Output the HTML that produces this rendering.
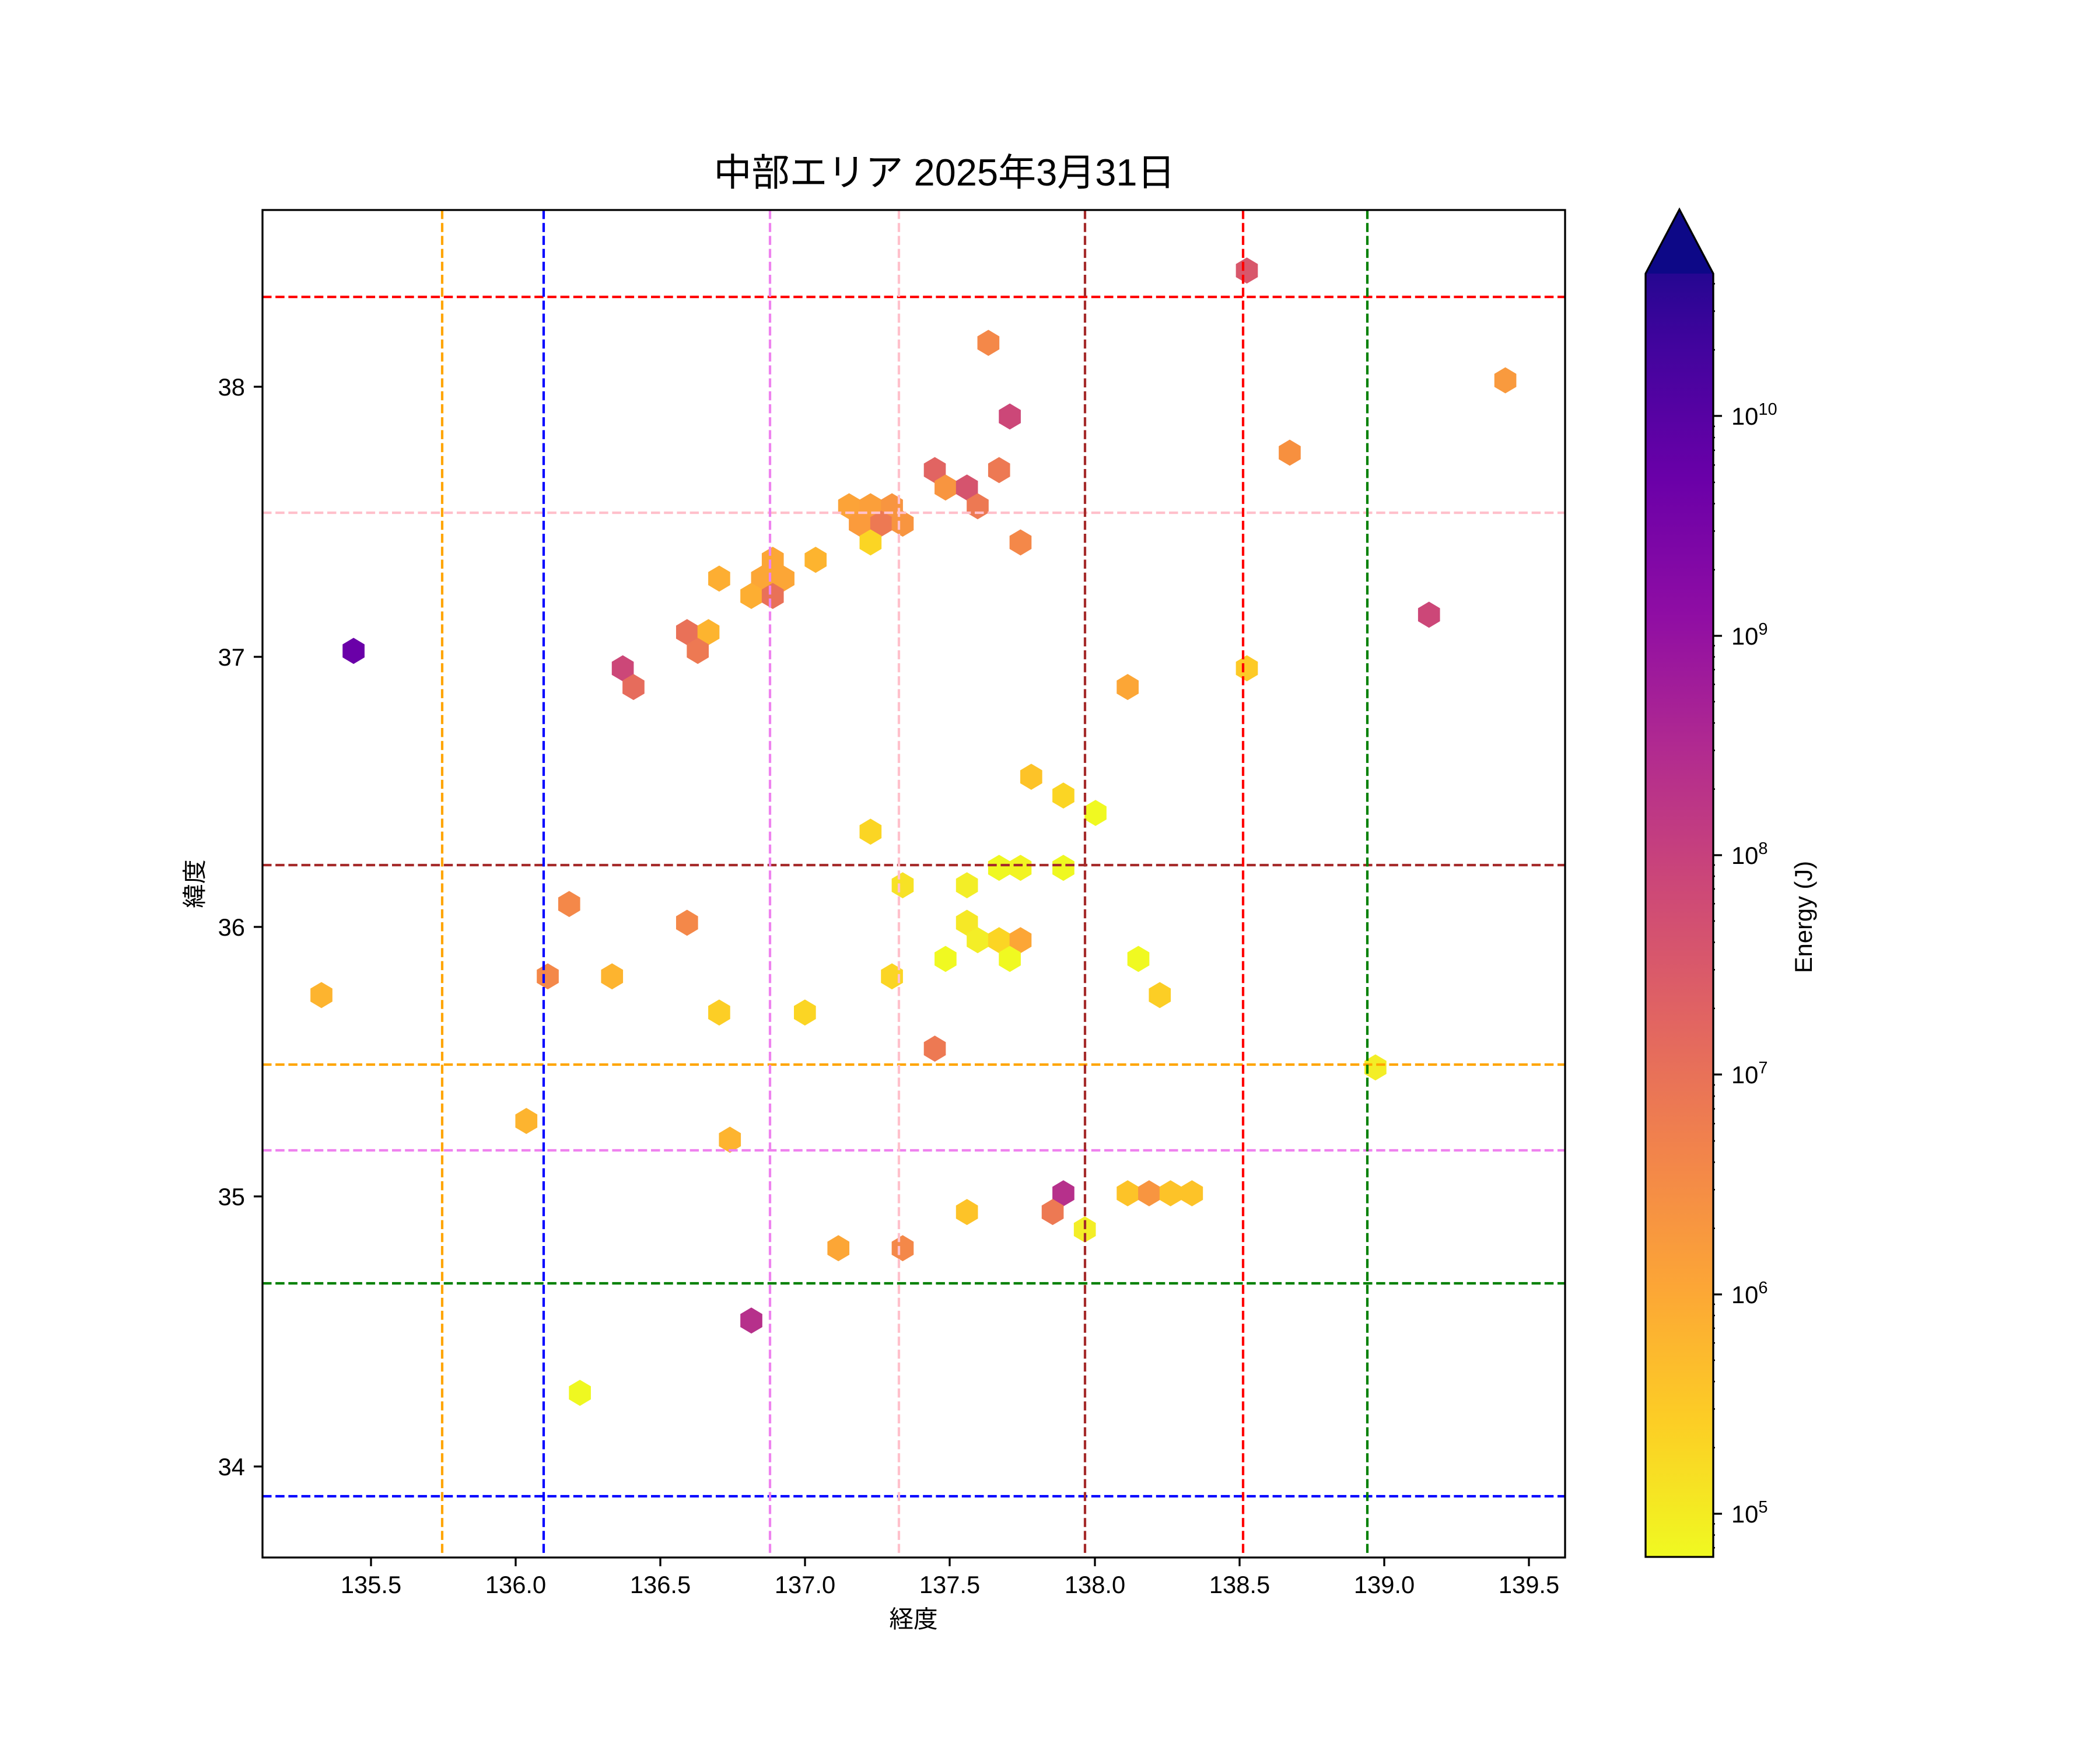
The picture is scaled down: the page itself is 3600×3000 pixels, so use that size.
<!DOCTYPE html>
<html><head><meta charset="utf-8"><style>
html,body{margin:0;padding:0;background:#fff;}
svg{display:block;}
text{font-family:"Liberation Sans","Noto Sans CJK JP",sans-serif;fill:#000;}
</style></head><body>
<svg width="3600" height="3000" viewBox="0 0 3600 3000" xmlns="http://www.w3.org/2000/svg">
<defs>
<polygon id="h" points="0,-9.75 8.2,-4.87 8.2,4.87 0,9.75 -8.2,4.87 -8.2,-4.87"/>
<linearGradient id="pl" x1="0" y1="1" x2="0" y2="0">
<stop offset="0" stop-color="#f0f921"/><stop offset="0.1" stop-color="#fcce25"/><stop offset="0.2" stop-color="#fca636"/><stop offset="0.3" stop-color="#f2844b"/><stop offset="0.4" stop-color="#e16462"/><stop offset="0.5" stop-color="#cc4778"/><stop offset="0.6" stop-color="#b12a90"/><stop offset="0.7" stop-color="#8f0da4"/><stop offset="0.8" stop-color="#6a00a8"/><stop offset="0.9" stop-color="#41049d"/><stop offset="1" stop-color="#0d0887"/>
</linearGradient>
<clipPath id="cb"><rect x="2900" y="470" width="40" height="2199"/></clipPath>
<g id="mt" stroke="#000" stroke-width="2.5">
<line x1="2937" x2="2945.3" y1="-113.3" y2="-113.3"/><line x1="2937" x2="2945.3" y1="-179.6" y2="-179.6"/><line x1="2937" x2="2945.3" y1="-226.6" y2="-226.6"/><line x1="2937" x2="2945.3" y1="-263.1" y2="-263.1"/><line x1="2937" x2="2945.3" y1="-292.8" y2="-292.8"/><line x1="2937" x2="2945.3" y1="-318.1" y2="-318.1"/><line x1="2937" x2="2945.3" y1="-339.9" y2="-339.9"/><line x1="2937" x2="2945.3" y1="-359.1" y2="-359.1"/>
</g>
</defs>
<rect width="3600" height="3000" fill="#fff"/>

<text x="1619" y="318" font-size="65" text-anchor="middle">中部エリア 2025年3月31日</text>

<g transform="scale(2.2959)">
<use href="#h" x="931" y="202" fill="#d8576b"/>
<use href="#h" x="738" y="256" fill="#f48849"/>
<use href="#h" x="1124" y="284" fill="#f99a3e"/>
<use href="#h" x="754" y="311" fill="#cc4778"/>
<use href="#h" x="963" y="338" fill="#f7903f"/>
<use href="#h" x="698" y="351" fill="#e16462"/>
<use href="#h" x="746" y="351" fill="#ed7953"/>
<use href="#h" x="706" y="364" fill="#f89540"/>
<use href="#h" x="722" y="364" fill="#d5546e"/>
<use href="#h" x="730" y="378" fill="#ed7953"/>
<use href="#h" x="634" y="378" fill="#fca338"/>
<use href="#h" x="650" y="378" fill="#fb9f3a"/>
<use href="#h" x="666" y="378" fill="#f89540"/>
<use href="#h" x="642" y="391" fill="#fb9b3c"/>
<use href="#h" x="658" y="391" fill="#ed7953"/>
<use href="#h" x="674" y="391" fill="#f89540"/>
<use href="#h" x="650" y="405" fill="#fbd524"/>
<use href="#h" x="762" y="405" fill="#f48849"/>
<use href="#h" x="609" y="418" fill="#fdb42f"/>
<use href="#h" x="577" y="418" fill="#fca636"/>
<use href="#h" x="537" y="432" fill="#fdae32"/>
<use href="#h" x="569" y="432" fill="#fca636"/>
<use href="#h" x="585" y="432" fill="#fca636"/>
<use href="#h" x="561" y="445" fill="#fdae32"/>
<use href="#h" x="577" y="445" fill="#e97158"/>
<use href="#h" x="513" y="472" fill="#e97158"/>
<use href="#h" x="529" y="472" fill="#fdb42f"/>
<use href="#h" x="521" y="486" fill="#ed7953"/>
<use href="#h" x="264" y="486" fill="#6a00a8"/>
<use href="#h" x="465" y="499" fill="#cc4778"/>
<use href="#h" x="473" y="513" fill="#e66c5c"/>
<use href="#h" x="931" y="499" fill="#fdca26"/>
<use href="#h" x="842" y="513" fill="#fca636"/>
<use href="#h" x="1067" y="459" fill="#cc4778"/>
<use href="#h" x="770" y="580" fill="#fdc328"/>
<use href="#h" x="794" y="594" fill="#fbd524"/>
<use href="#h" x="818" y="607" fill="#f0f921"/>
<use href="#h" x="650" y="621" fill="#fbd524"/>
<use href="#h" x="746" y="648" fill="#eff821"/>
<use href="#h" x="762" y="648" fill="#f2f422"/>
<use href="#h" x="794" y="648" fill="#eff821"/>
<use href="#h" x="674" y="661" fill="#f7e225"/>
<use href="#h" x="722" y="661" fill="#f3ee27"/>
<use href="#h" x="425" y="675" fill="#f48849"/>
<use href="#h" x="513" y="689" fill="#f48849"/>
<use href="#h" x="722" y="689" fill="#f6e826"/>
<use href="#h" x="730" y="702" fill="#f3ee27"/>
<use href="#h" x="746" y="702" fill="#fbd524"/>
<use href="#h" x="762" y="702" fill="#fca636"/>
<use href="#h" x="706" y="716" fill="#f0f921"/>
<use href="#h" x="754" y="716" fill="#f0f921"/>
<use href="#h" x="850" y="716" fill="#f0f921"/>
<use href="#h" x="240" y="743" fill="#fdb42f"/>
<use href="#h" x="409" y="729" fill="#f48849"/>
<use href="#h" x="457" y="729" fill="#fdb42f"/>
<use href="#h" x="666" y="729" fill="#fbd524"/>
<use href="#h" x="866" y="743" fill="#fcce25"/>
<use href="#h" x="537" y="756" fill="#fcce25"/>
<use href="#h" x="601" y="756" fill="#fbd524"/>
<use href="#h" x="698" y="783" fill="#ed7953"/>
<use href="#h" x="1027" y="797" fill="#f3ee27"/>
<use href="#h" x="393" y="837" fill="#fdb42f"/>
<use href="#h" x="545" y="851" fill="#fdb42f"/>
<use href="#h" x="794" y="891" fill="#b6308b"/>
<use href="#h" x="842" y="891" fill="#fdc328"/>
<use href="#h" x="858" y="891" fill="#f89540"/>
<use href="#h" x="874" y="891" fill="#fdc328"/>
<use href="#h" x="890" y="891" fill="#fdc328"/>
<use href="#h" x="722" y="905" fill="#fdc328"/>
<use href="#h" x="786" y="905" fill="#ed7953"/>
<use href="#h" x="810" y="918" fill="#f3ee27"/>
<use href="#h" x="626" y="932" fill="#fca636"/>
<use href="#h" x="674" y="932" fill="#f48849"/>
<use href="#h" x="561" y="986" fill="#b6308b"/>
<use href="#h" x="433" y="1040" fill="#eff821"/>
</g>

<g stroke-width="4.2" stroke-dasharray="15.5,6.7" fill="none">
<line x1="450" x2="2683" y1="509" y2="509" stroke="#ff0000"/>
<line x1="450" x2="2683" y1="879" y2="879" stroke="#ffc0cb"/>
<line x1="450" x2="2683" y1="1483" y2="1483" stroke="#a52a2a"/>
<line x1="450" x2="2683" y1="1825" y2="1825" stroke="#ffa500"/>
<line x1="450" x2="2683" y1="1972" y2="1972" stroke="#ee82ee"/>
<line x1="450" x2="2683" y1="2200" y2="2200" stroke="#008000"/>
<line x1="450" x2="2683" y1="2565" y2="2565" stroke="#0000ff"/>
<line y1="360" y2="2670" x1="758" x2="758" stroke="#ffa500"/>
<line y1="360" y2="2670" x1="932" x2="932" stroke="#0000ff"/>
<line y1="360" y2="2670" x1="1320" x2="1320" stroke="#ee82ee"/>
<line y1="360" y2="2670" x1="1541" x2="1541" stroke="#ffc0cb"/>
<line y1="360" y2="2670" x1="1860" x2="1860" stroke="#a52a2a"/>
<line y1="360" y2="2670" x1="2131" x2="2131" stroke="#ff0000"/>
<line y1="360" y2="2670" x1="2344" x2="2344" stroke="#008000"/>
</g>

<rect x="450" y="360" width="2233" height="2310" fill="none" stroke="#000" stroke-width="3.3"/>
<g stroke="#000" stroke-width="3.3">
<line x1="636" x2="636" y1="2670" y2="2685"/>
<line x1="884" x2="884" y1="2670" y2="2685"/>
<line x1="1132" x2="1132" y1="2670" y2="2685"/>
<line x1="1380" x2="1380" y1="2670" y2="2685"/>
<line x1="1628" x2="1628" y1="2670" y2="2685"/>
<line x1="1877" x2="1877" y1="2670" y2="2685"/>
<line x1="2125" x2="2125" y1="2670" y2="2685"/>
<line x1="2373" x2="2373" y1="2670" y2="2685"/>
<line x1="2621" x2="2621" y1="2670" y2="2685"/>
<line x1="435" x2="450" y1="663" y2="663"/>
<line x1="435" x2="450" y1="1126" y2="1126"/>
<line x1="435" x2="450" y1="1589" y2="1589"/>
<line x1="435" x2="450" y1="2051" y2="2051"/>
<line x1="435" x2="450" y1="2514" y2="2514"/>
</g>
<g font-size="41.7" text-anchor="middle">
<text x="636" y="2731">135.5</text>
<text x="884" y="2731">136.0</text>
<text x="1132" y="2731">136.5</text>
<text x="1380" y="2731">137.0</text>
<text x="1628" y="2731">137.5</text>
<text x="1877" y="2731">138.0</text>
<text x="2125" y="2731">138.5</text>
<text x="2373" y="2731">139.0</text>
<text x="2621" y="2731">139.5</text>
</g>
<g font-size="41.7" text-anchor="end">
<text x="420" y="678">38</text>
<text x="420" y="1141">37</text>
<text x="420" y="1604">36</text>
<text x="420" y="2066">35</text>
<text x="420" y="2529">34</text>
</g>
<text x="1566" y="2790" font-size="41.7" text-anchor="middle">経度</text>
<text transform="translate(348,1515) rotate(-90)" font-size="41.7" text-anchor="middle">緯度</text>

<polygon points="2821,2669 2821,469 2879,359 2937,469 2937,2669" fill="url(#pl)"/>
<polygon points="2821,469 2879,359 2937,469" fill="#0d0887"/>
<polygon points="2821,2669 2821,469 2879,359 2937,469 2937,2669" fill="none" stroke="#000" stroke-width="3.3"/>
<g clip-path="url(#cb)">
<use href="#mt" y="2971.4"/><use href="#mt" y="2595"/><use href="#mt" y="2219"/><use href="#mt" y="1842"/><use href="#mt" y="1466"/><use href="#mt" y="1090"/><use href="#mt" y="713"/>
</g>
<g stroke="#000" stroke-width="3.3">
<line x1="2937" x2="2952" y1="2595" y2="2595"/>
<line x1="2937" x2="2952" y1="2219" y2="2219"/>
<line x1="2937" x2="2952" y1="1842" y2="1842"/>
<line x1="2937" x2="2952" y1="1466" y2="1466"/>
<line x1="2937" x2="2952" y1="1090" y2="1090"/>
<line x1="2937" x2="2952" y1="713" y2="713"/>
</g>
<g font-size="41.7">
<text x="2968" y="2610">10<tspan font-size="29" dy="-17">5</tspan></text>
<text x="2968" y="2234">10<tspan font-size="29" dy="-17">6</tspan></text>
<text x="2968" y="1857">10<tspan font-size="29" dy="-17">7</tspan></text>
<text x="2968" y="1481">10<tspan font-size="29" dy="-17">8</tspan></text>
<text x="2968" y="1105">10<tspan font-size="29" dy="-17">9</tspan></text>
<text x="2968" y="728">10<tspan font-size="29" dy="-17">10</tspan></text>
</g>
<text transform="translate(3106,1572) rotate(-90)" font-size="41.7" text-anchor="middle">Energy (J)</text>
</svg>
</body></html>
